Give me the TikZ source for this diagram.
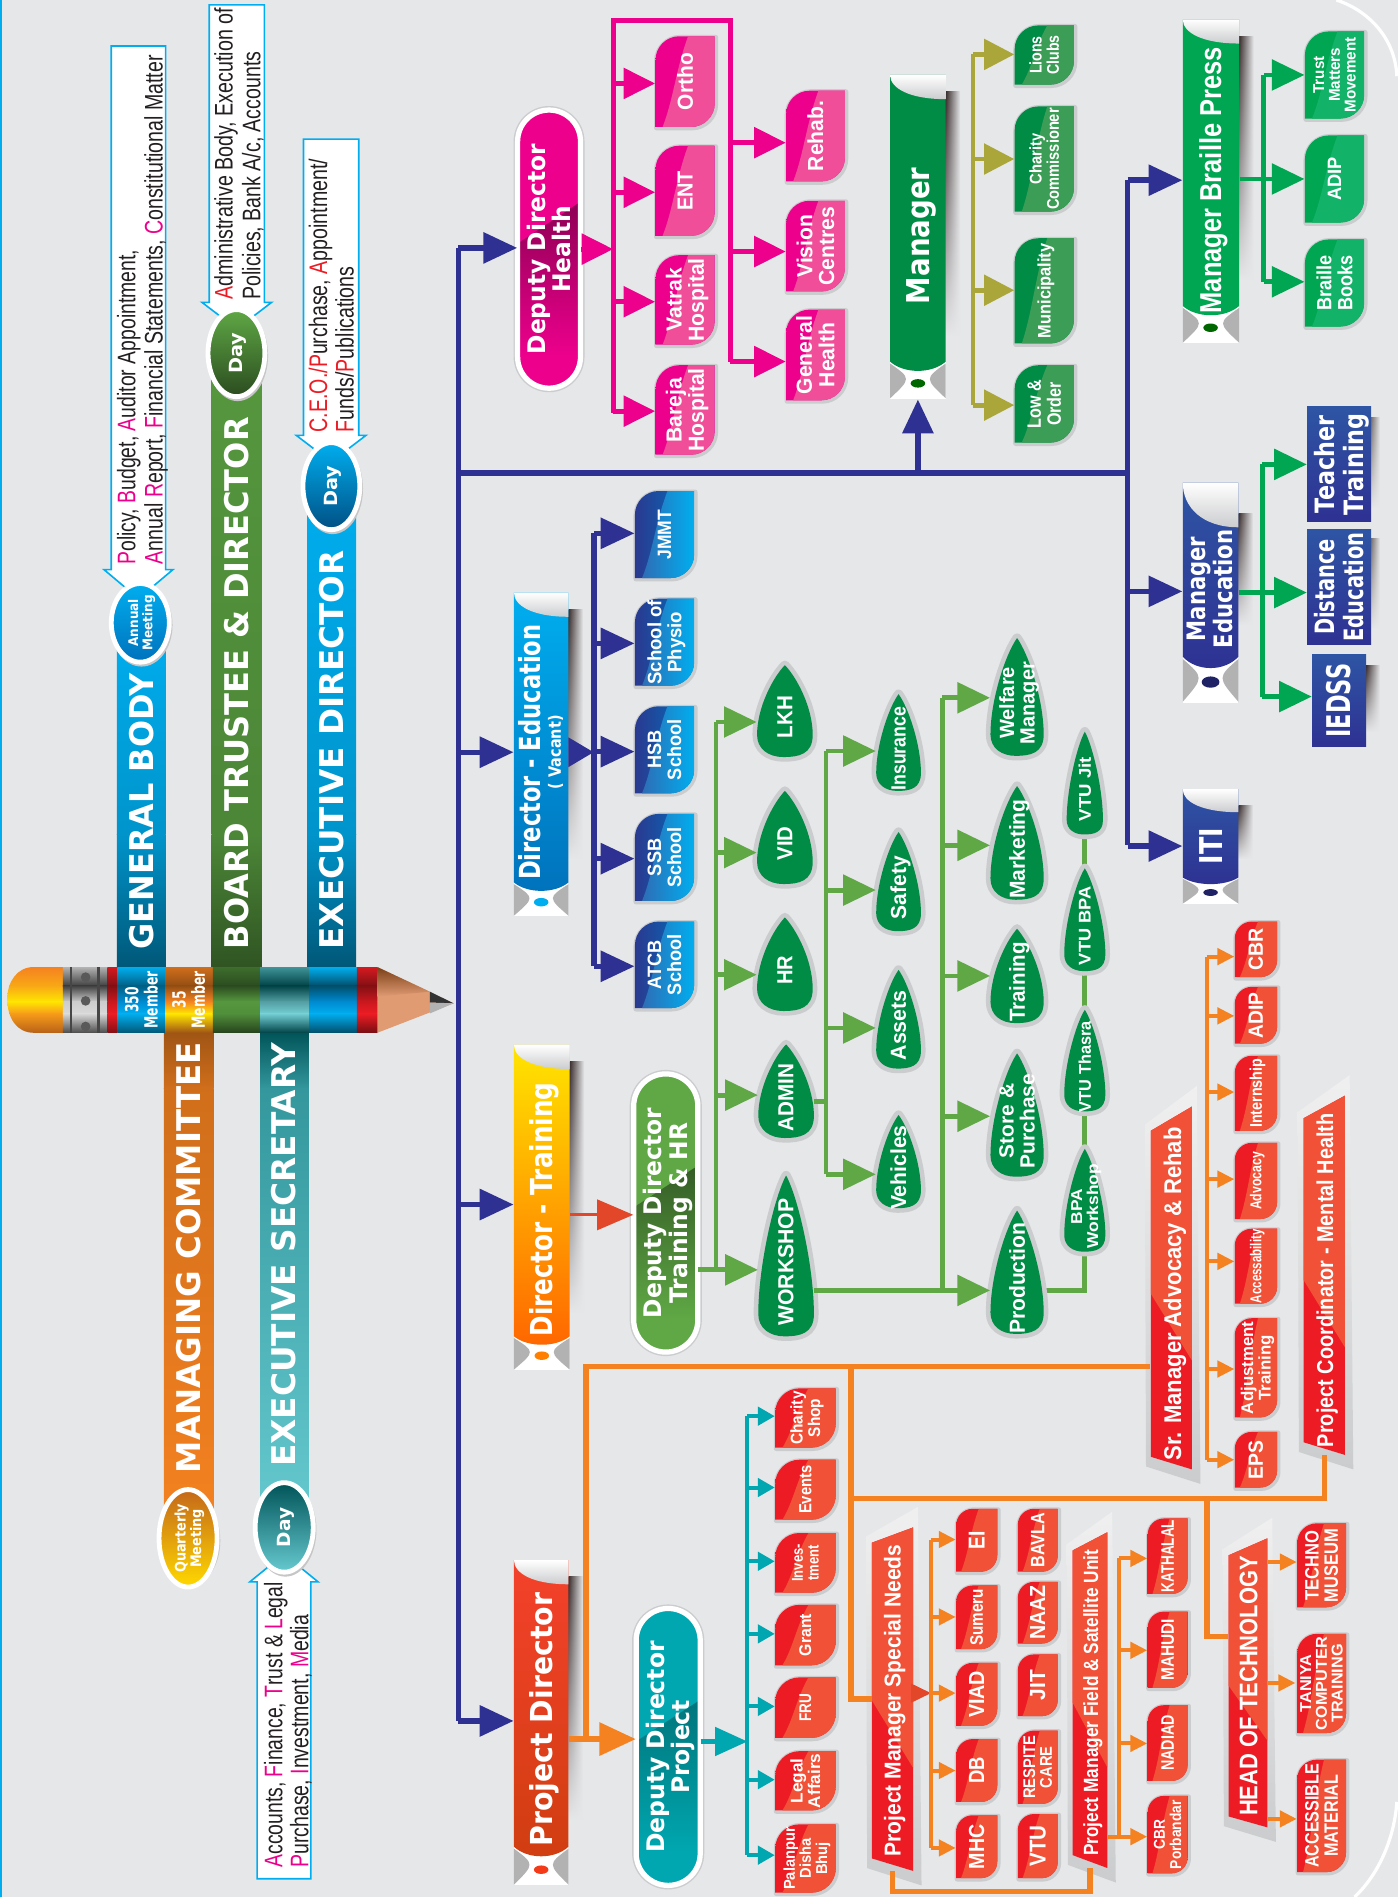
\documentclass[tikz,border=0pt]{standalone}
\usepackage{fontspec}
\usepackage{graphicx}
\usetikzlibrary{arrows.meta,shapes.geometric,calc,fadings}
\newfontfamily\arf{Liberation Sans}
\newfontfamily\dvf{DejaVu Sans}
\def\AB{\arf\bfseries}
\def\DB{\dvf\bfseries}
\def\AR{\arf}
\newlength\uu \setlength\uu{0.6pt}
\newcommand\fs[1]{\fontsize{\fpeval{0.6*#1}pt}{\fpeval{0.6*#1}pt}\selectfont}
% font, size, length along the text, text
\newcommand\T[4]{\kern\fpeval{0.28*0.6*#2}pt\rotatebox{90}{\resizebox{#3\uu}{\height}{#1\fs{#2}\begin{tabular}{@{}c@{}}#4\end{tabular}}}}
\definecolor{bgc}{HTML}{E6E7E9}
\definecolor{silverc}{HTML}{CBCCCE}
\definecolor{cyanc}{HTML}{00AEEF}
\definecolor{cblue}{HTML}{2E3192}
\definecolor{cpink}{HTML}{EC008C}
\definecolor{cpinkl}{HTML}{F04E98}
\definecolor{cred}{HTML}{ED1C24}
\definecolor{credl}{HTML}{F15136}
\definecolor{cgreen}{HTML}{008C45}
\definecolor{cgreenl}{HTML}{3C9D56}
\definecolor{cbr}{HTML}{00A651}
\definecolor{cbrl}{HTML}{12B268}
\definecolor{cline}{HTML}{5FA845}
\definecolor{colive}{HTML}{AAA63A}
\definecolor{corange}{HTML}{F58220}
\definecolor{cteal}{HTML}{00A7B0}
\definecolor{txtc}{HTML}{231F20}
\definecolor{shad}{HTML}{3A2E2E}
\definecolor{bluea}{HTML}{2A3990}
\definecolor{blueb}{HTML}{0072BC}
\definecolor{bluec}{HTML}{2E6DB5}
\definecolor{blued}{HTML}{00AEEF}
\definecolor{navyt}{HTML}{2E55A4}
\definecolor{conel}{HTML}{E09B73}
\definecolor{coned}{HTML}{7A3F17}
\definecolor{arrowr}{HTML}{E2472A}
\pgfdeclarelayer{back}
\pgfsetlayers{back,main}
\tikzset{
 tw/.style={text=white,inner sep=0pt},
 bx/.style={inner sep=0pt},
 lnblue/.style={draw=cblue,line width=2.7pt},
 arblue/.style={lnblue,-{Triangle[length=16.8pt,width=15pt]}},
 lnpink/.style={draw=cpink,line width=2.4pt},
 arpink/.style={lnpink,-{Triangle[length=15.6pt,width=15pt]}},
 lnolive/.style={draw=colive,line width=2.4pt},
 arolive/.style={lnolive,-{Triangle[length=15pt,width=15pt]}},
 lngr/.style={draw=cline,line width=2.4pt},
 argr/.style={lngr,-{Triangle[length=16.2pt,width=15pt]}},
 lnbr/.style={draw=cbr,line width=2.4pt},
 arbr/.style={lnbr,-{Triangle[length=16.2pt,width=15pt]}},
 lnor/.style={draw=corange,line width=2.7pt},
 arorbig/.style={lnor,-{Triangle[length=18pt,width=16pt]}},
 lnors/.style={draw=corange,line width=2pt},
 arors/.style={lnors,-{Triangle[length=8.4pt,width=8pt]}},
 lnte/.style={draw=cteal,line width=2pt},
 arte/.style={lnte,-{Triangle[length=8.4pt,width=9pt]}},
}
\newcommand\setleaf[4]{\def\lfA{#1}\def\lfB{#2}\def\lfC{#3}\def\lfD{#4}}
% name x0 x1 y0 y1 text
\newcommand\leaf[6]{%
 \pgfmathsetmacro\qw{#3-#2}\pgfmathsetmacro\qh{#5-#4}%
 \pgfmathsetmacro\qr{min(.4*\qw,.42*\qh)}%
 \pgfmathsetmacro\qya{#4+\qr}\pgfmathsetmacro\qyb{#5-\qr}%
 \pgfmathsetmacro\qxa{#2+\qr}\pgfmathsetmacro\qxb{#3-\qr}%
 \pgfmathsetmacro\qyc{#4+.45*\qr}\pgfmathsetmacro\qyd{#5-.45*\qr}%
 \pgfmathsetmacro\qxc{#2+.45*\qr}\pgfmathsetmacro\qxd{#3-.45*\qr}%
 \def\lp{(#2,#5) -- (#2,\qya) .. controls (#2,\qyc) and (\qxc,#4) .. (\qxa,#4) -- (#3,#4) -- (#3,\qyb) .. controls (#3,\qyd) and (\qxd,#5) .. (\qxb,#5) -- cycle}%
 \draw[line width=2.4pt,silverc,line join=round,shift={(0.8,0.8)}] \lp;
 \shade[left color=\lfA,right color=\lfB] \lp;
 \begin{scope}\clip \lp;
  \pgfmathsetmacro\qsa{#2+.55*\qw}\pgfmathsetmacro\qsb{#2+.35*\qw}\pgfmathsetmacro\qsc{#4+.35*\qh}%
  \pgfmathsetmacro\qsd{#2+.3*\qw}\pgfmathsetmacro\qse{#4+.7*\qh}\pgfmathsetmacro\qsf{#2+.12*\qw}%
  \shade[left color=\lfC,right color=\lfD] (\qsa,#4) .. controls (\qsb,\qsc) and (\qsd,\qse) .. (\qsf,#5) -- (#3,#5) -- (#3,#4) -- cycle;
 \end{scope}
 \pgfmathsetmacro\qcx{(#2+#3)/2}\pgfmathsetmacro\qcy{(#4+#5)/2}%
 \node[tw,minimum width=\qw*0.6pt,minimum height=\qh*0.6pt] (#1) at (\qcx,\qcy) {#6};
}
% name cx y0 y1 a text
\newcommand\drop[6]{%
 \pgfmathsetmacro\qh{#4-#3}\pgfmathsetmacro\qyw{#4-.8*#5}%
 \pgfmathsetmacro\qxr{#2+#5}\pgfmathsetmacro\qxl{#2-#5}%
 \pgfmathsetmacro\qta{#2+.42*#5}\pgfmathsetmacro\qtb{#2-.42*#5}\pgfmathsetmacro\qtc{#3+.13*\qh}%
 \pgfmathsetmacro\qtd{\qyw-.3*\qh}\pgfmathsetmacro\qte{#4-.1*#5}\pgfmathsetmacro\qtf{#2+.5*#5}%
 \pgfmathsetmacro\qtg{#2-.05*#5}\pgfmathsetmacro\qti{#2-.6*#5}\pgfmathsetmacro\qtj{#4-.3*#5}%
 \def\lp{(#2,#3) .. controls (\qta,\qtc) and (\qxr,\qtd) .. (\qxr,\qyw) .. controls (\qxr,\qte) and (\qtf,#4) .. (\qtg,#4) .. controls (\qti,#4) and (\qxl,\qtj) .. (\qxl,\qyw) .. controls (\qxl,\qtd) and (\qtb,\qtc) .. cycle}%
 \draw[line width=4.6pt,silverc,line join=round] \lp;
 \fill[cgreen] \lp;
 \pgfmathsetmacro\qcy{(#3+#4)/2}\pgfmathsetmacro\qty{\qcy+5}%
 \node[bx,minimum width=2*#5*0.6pt,minimum height=\qh*0.6pt] (#1) at (#2,\qcy) {};
 \node[tw] (#1-t) at (#2,\qty) {#6};
}
% name x0 x1 ytl ytr ybl ybr text-x text
\newcommand\para[9]{%
 \pgfmathsetmacro\qa{#2-5}\pgfmathsetmacro\qb{#4-5}\pgfmathsetmacro\qc{#3+4}\pgfmathsetmacro\qd{#5-17}%
 \pgfmathsetmacro\qe{#3+7}\pgfmathsetmacro\qf{#7+12}\pgfmathsetmacro\qg{#2-4}\pgfmathsetmacro\qi{#6+8}%
 \shade[top color=gray!12,bottom color=silverc] (\qa,\qb) -- (\qc,\qd) -- (\qe,\qf) -- (\qg,\qi) -- cycle;
 \def\lp{(#2,#4) -- (#3,#5) -- (#3,#7) -- (#2,#6) -- cycle}%
 \fill[cred] \lp;
 \pgfmathsetmacro\qj{#4+.5*(#6-#4)}\pgfmathsetmacro\qk{#5+.7*(#7-#5)}%
 \fill[credl] (#2,#4) -- (#3,#5) -- (#3,\qk) -- (#2,\qj) -- cycle;
 \pgfmathsetmacro\qcx{(#2+#3)/2}\pgfmathsetmacro\qcy{(#5+#7)/2}\pgfmathsetmacro\qw{#3-#2}\pgfmathsetmacro\qh{#7-#5}%
 \node[bx,minimum width=\qw*0.6pt,minimum height=\qh*0.6pt] (#1) at (\qcx,\qcy) {};
 \node[tw] (#1-t) at (#8,{(#4+#6)/2}) {#9};
}
% name x0 x1 y0 y1 base dark text
\newcommand\pill[8]{%
 \pgfmathsetmacro\qw{#3-#2}\pgfmathsetmacro\qh{#5-#4}\pgfmathsetmacro\qrr{\qw/2*0.6}%
 \draw[line width=4pt,silverc,rounded corners=\qrr pt] (#2,#4) rectangle (#3,#5);
 \begin{scope}
  \clip[rounded corners=\qrr pt] (#2,#4) rectangle (#3,#5);
  \fill[#6] (#2,#4) rectangle (#3,#5);
  \pgfmathsetmacro\qa{#4+.48*\qh}\pgfmathsetmacro\qb{#4+.33*\qh}\pgfmathsetmacro\qc{#4+.88*\qh}%
  \shade[top color=#7,bottom color=#6] (#2,\qa) -- (#3,\qb) -- (#3,\qc) -- (#2,\qc) -- cycle;
 \end{scope}
 \draw[line width=2.6pt,white,rounded corners=\qrr pt] (#2,#4) rectangle (#3,#5);
 \pgfmathsetmacro\qcx{(#2+#3)/2}\pgfmathsetmacro\qcy{(#4+#5)/2}%
 \node[tw,minimum width=\qw*0.6pt,minimum height=\qh*0.6pt] (#1) at (\qcx,\qcy) {#8};
}
% name x0 x1 y0 y1 curl bottom top-col bot-col
\newcommand\banner[9]{%
 \pgfmathsetmacro\qw{#3-#2}\pgfmathsetmacro\qcx{(#2+#3)/2}\pgfmathsetmacro\qcy{(#4+#5)/2}%
 \pgfmathsetmacro\qsa{#4+.7*#6}\pgfmathsetmacro\qsb{#5-1.7*#7}\pgfmathsetmacro\qsx{#3+12}%
 \shade[left color=shad,right color=bgc,path fading=south] (#3,\qsa) rectangle (\qsx,\qsb);
 \pgfmathsetmacro\qbt{#5-#7}%
 \fill[white] (#2,\qbt) rectangle (#3,#5);
 \pgfmathsetmacro\qba{#5-.95*#7}\pgfmathsetmacro\qbb{#5-.55*#7}\pgfmathsetmacro\qbc{#5-.02*#7}%
 \pgfmathsetmacro\qla{#2+.38*\qw}\pgfmathsetmacro\qlb{#3-.38*\qw}%
 \fill[gray!60] (#2,\qba) .. controls (\qla,\qbb) .. (#2,\qbc) -- cycle;
 \fill[gray!60] (#3,\qba) .. controls (\qlb,\qbb) .. (#3,\qbc) -- cycle;
 \pgfmathsetmacro\qdm{\qbt+.33*#7}\pgfmathsetmacro\qca{\qcx-.25*\qw}\pgfmathsetmacro\qcb{\qcx+.25*\qw}%
 \shade[top color=#8,bottom color=#9] (#2,#4) -- (#3,#4) -- (#3,\qbt) .. controls (\qcb,\qdm) and (\qca,\qdm) .. (#2,\qbt) -- cycle;
 \pgfmathsetmacro\qcu{#4+#6}\pgfmathsetmacro\qcv{\qcx-.15*\qw}\pgfmathsetmacro\qcw{#4+.55*#6}%
 \shade[top color=white,bottom color=silverc] (#2,#4) -- (#3,#4) -- (#3,\qcu) .. controls (\qcv,\qcu) and (#2,\qcw) .. (#2,#4) -- cycle;
 \node[bx,minimum width=\qw*0.6pt,minimum height=(#5-#4)*0.6pt] (#1) at (\qcx,\qcy) {};
}
% x0 x1 ytop ywing ext tip
\newcommand\callout[6]{%
 \pgfmathsetmacro\qa{#1-#5}\pgfmathsetmacro\qb{#2+#5}\pgfmathsetmacro\qc{(#1+#2)/2}%
 \draw[cyanc,fill=white,line width=.8pt] (#1,#3) -- (#2,#3) -- (#2,#4) -- (\qb,#4) -- (\qc,#6) -- (\qa,#4) -- (#1,#4) -- cycle;
}
\newcommand\ltx[5]{\node[bx,anchor=south,text=txtc] (#1) at (#2,#3) {\T{\AR}{21}{#4}{#5}};}
\newcommand\mg[1]{\textcolor{cpink}{#1}}
\newcommand\rd[1]{\textcolor{cred}{#1}}
% name cx cy rx ry top bottom text
\newcommand\ovl[8]{%
 \fill[gray!45,shift={(1,2)}] (#2,#3) circle [x radius=#4*0.6pt+1pt,y radius=#5*0.6pt+1pt];
 \node[ellipse,inner sep=0pt,draw=white,line width=2.4pt,top color=#6,bottom color=#7,text=white,
   minimum width=2*#4*0.6pt,minimum height=2*#5*0.6pt] (#1) at (#2,#3) {#8};
}
\newcommand\pband[7]{%
 \shade[top color=#3,bottom color=#4] (#1,799.6) rectangle (#2,815.3);
 \shade[top color=#4,bottom color=#5] (#1,815) rectangle (#2,828.3);
 \shade[top color=#5,bottom color=#6] (#1,828) rectangle (#2,838.3);
 \shade[top color=#6,bottom color=#7] (#1,838) rectangle (#2,854);
}
\newcommand\tap[4]{\draw[#1] (#2 |- 0,#4) -- (#3.west |- 0,#4);}
\newcommand\trunk[4]{\draw[#1] (#2 |- 0,#3) -- (#2 |- 0,#4);}
\begin{document}
\begin{tikzpicture}[x=0.6pt,y=-0.6pt]
\useasboundingbox (0,0) rectangle (1156,1568.6);
\begin{pgfonlayer}{back}
\fill[bgc] (0,0) rectangle (1156,1568.6);
\fill[cyanc] (0,0) rectangle (2,1568.6);
\draw[white,line width=1.6pt] (1105,0) .. controls (1135,10) and (1154,35) .. (1155,63);
\draw[white,line width=1.6pt] (1155,1490) .. controls (1153,1520) and (1140,1550) .. (1120,1568.6);
\end{pgfonlayer}

% callouts
\callout{92}{137}{38}{471}{6}{495}
\callout{173}{218.6}{4}{250}{6}{272}
\callout{251}{296.6}{115}{360}{6}{382}
\callout{212.6}{257}{1553.5}{1308}{6}{1285}
\ltx{c1a}{104.5}{467}{260}{\mg{P}olicy, \mg{B}udget, \mg{A}uditor Appointment,}
\ltx{c1b}{127}{467}{421}{\mg{A}nnual \mg{R}eport, \mg{F}inancial Statements, \mg{C}onstitutional Matter}
\ltx{c2a}{185}{248}{241}{\rd{A}dministrative Body, Execution of}
\ltx{c2b}{208}{248}{205}{Policies, Bank A/c, Accounts}
\ltx{c3a}{263}{357.7}{226}{\rd{C.E.O./P}urchase, \rd{A}ppointment/}
\ltx{c3b}{285}{357.7}{137}{\rd{F}unds/\rd{P}ublications}
\ltx{c4a}{226}{1544.6}{236}{\mg{A}ccounts, \mg{F}inance, \mg{T}rust \& \mg{L}egal}
\ltx{c4b}{247.5}{1544.6}{209}{\mg{P}urchase, \mg{I}nvestment, \mg{M}edia}

% bars
\shade[top color=cyanc,bottom color=cyanc!85!black] (96.7,514) rectangle (137,690.3);
\shade[top color=cyanc!85!black,bottom color=cyanc!50!black] (96.7,690) rectangle (137,800);
\shade[top color=cline!90!black,bottom color=cline!80!black] (175,292) rectangle (216.6,690.3);
\shade[top color=cline!80!black,bottom color=cline!50!black] (175,690) rectangle (216.6,800);
\shade[top color=cyanc,bottom color=cyanc!85!black] (254,402) rectangle (294.4,690.3);
\shade[top color=cyanc!85!black,bottom color=cyanc!50!black] (254,690) rectangle (294.4,800);
\shade[top color=corange!65!black,bottom color=corange!85!black] (135.6,853) rectangle (176.7,900.3);
\shade[top color=corange!85!black,bottom color=corange] (135.6,900) rectangle (176.7,1272);
\shade[top color=cteal!50!black,bottom color=cteal!60!gray] (215,853) rectangle (255.5,900.3);
\shade[top color=cteal!60!gray,bottom color=cteal!60!white] (215,900) rectangle (255.5,1263);
\node[tw] (tGB) at (117,671) {\T{\DB}{27}{228}{GENERAL BODY}};
\node[tw] (tBT) at (196,565) {\T{\DB}{27}{440}{BOARD TRUSTEE \& DIRECTOR}};
\node[tw] (tED) at (274.5,620) {\T{\DB}{27}{330}{EXECUTIVE DIRECTOR}};
\node[tw] (tMC) at (156,1040) {\T{\DB}{27}{356}{MANAGING COMMITTEE}};
\node[tw] (tES) at (235,1037.5) {\T{\DB}{27}{351}{EXECUTIVE SECRETARY}};

% ovals
\ovl{oA}{116}{515}{24}{32.5}{cyanc}{blueb}{\T{\DB}{11}{46}{Annual\\Meeting}}
\ovl{oB}{195.5}{292}{23.5}{36}{cline}{cline!45!black}{\T{\DB}{15}{34}{Day}}
\ovl{oC}{274}{402}{23.5}{36}{cyanc}{blueb!70!black}{\T{\DB}{15}{34}{Day}}
\ovl{oD}{155.5}{1272}{24}{36}{corange!80!black}{yellow!70!orange}{\T{\DB}{12}{57}{Quarterly\\Meeting}}
\ovl{oE}{235}{1263}{24}{37}{cteal!50!black}{cteal!60!white}{\T{\DB}{15}{32.6}{Day}}

% pencil
\begin{scope}
\clip (52,799.6) -- (28,799.6) .. controls (14,799.6) and (6,812) .. (6,826) .. controls (6,842) and (14,854) .. (28,854) -- (52,854) -- cycle;
\pband{6}{52.3}{corange}{corange!70!yellow}{yellow!80!orange}{corange!80!yellow}{corange!75!black}
\end{scope}
\pband{52}{89}{gray!60}{gray!50!black}{gray!40}{gray!30}{gray!60!black}
\fill[gray!55!black] (57.6,799.6) rectangle (59.4,854);
\fill[gray!55!black] (80.6,799.6) rectangle (82.4,854);
\fill[gray!70!black] (70.8,808) circle (2.4pt);
\fill[gray!70!black] (70.8,827.6) circle (2.4pt);
\fill[gray!70!black] (70.8,848.8) circle (2.4pt);
\pband{88.7}{97.3}{cred!90!black}{cred!55!black}{cred!85!black}{cred}{cred!55!black}
\pband{97}{136.8}{cyanc}{cyanc!55!black}{blueb!60!cyanc}{cyanc}{cyanc!50!black}
\pband{136.5}{176.3}{corange!85!black}{corange!60!black}{corange}{yellow!80!orange}{corange!65!black}
\pband{176}{215.3}{cline!65!black}{cline!45!black}{cline!90!black}{cline!85!black}{cline!40!black}
\pband{215}{255.9}{cteal!50!gray}{cteal!40!black}{cteal!50!gray!90!white}{cteal!55!white}{cteal!40!black}
\pband{255.6}{295.3}{cyanc}{cyanc!45!black}{blueb!60!cyanc}{cyanc}{cyanc!45!black}
\pband{295}{312.3}{cred!90!black}{cred!55!black}{cred!85!black}{cred}{cred!50!black}
\fill[conel] (312,799.6) -- (375,829.6) -- (312,854) -- cycle;
\shade[top color=coned,bottom color=conel] (312,799.6) -- (355.5,820) -- (312,824) -- cycle;
\fill[black!80] (355.5,820) -- (375,829.6) -- (355.5,829) -- cycle;
\fill[gray!60] (355.5,829) -- (375,829.6) -- (355.5,838) -- cycle;
\node[tw] (t350) at (117,826.8) {\T{\DB}{15}{47}{350\\Member}};
\node[tw] (t35) at (156,826.8) {\T{\DB}{15}{47}{35\\Member}};

% banners
\banner{pd}{425}{470}{1290}{1559}{20}{32}{credl!80!red}{cred!55!orange!85!black}
\fill[cred!70!orange] (447.5,1546) circle [x radius=3.6pt,y radius=2.1pt];
\node[tw] (pd-t) at (448,1422) {\T{\DB}{25}{210}{Project Director}};
\banner{dt}{425}{471}{864}{1133}{20}{28}{yellow!80!orange}{orange!80!red}
\fill[orange] (448,1121) circle [x radius=3.6pt,y radius=2.1pt];
\node[tw] (dt-t) at (448,1000) {\T{\DB}{25}{210}{Director - Training}};
\banner{de}{425}{470}{490}{757.7}{20}{28}{cyanc}{blueb}
\fill[cyanc] (447.5,746) circle [x radius=3.6pt,y radius=2.1pt];
\node[tw] (de-t) at (438,622) {\T{\DB}{24}{211}{Director - Education}};
\node[tw] (de-v) at (458.6,622) {\T{\DB}{14}{61}{( Vacant)}};
\banner{mg}{736}{782}{62}{330}{20}{31}{cgreen}{cgreen}
\fill[green!40!black] (759,317) circle [x radius=3.6pt,y radius=2.1pt];
\node[tw] (mg-t) at (759,195) {\T{\DB}{26}{113}{Manager}};
\banner{mb}{978}{1024.6}{16}{284}{20}{31}{cbr}{cbr}
\fill[green!40!black] (1001,271) circle [x radius=3.6pt,y radius=2.1pt];
\node[tw] (mb-t) at (1001,149) {\T{\AB}{25}{220}{Manager Braille Press}};
\banner{me}{978}{1024}{399}{581}{37}{38}{navyt}{cblue}
\fill[cblue!70!black] (1001,564) circle [x radius=4.4pt,y radius=2.8pt];
\node[tw] (me-t) at (1000.6,487) {\T{\DB}{21}{98}{Manager\\Education}};
\banner{iti}{978}{1024}{652.6}{747.6}{19}{22}{navyt}{cblue}
\fill[cblue!70!black] (1001,738) circle [x radius=3.6pt,y radius=1.7pt];
\node[tw] (iti-t) at (1001.4,699.6) {\T{\DB}{26}{30}{ITI}};

% shaded rectangles
\shade[left color=shad,right color=bgc,path fading=south] (1129.6,345) rectangle (1141,420);
\shade[left color=shad,right color=bgc,path fading=south] (1129.6,445) rectangle (1141,520);
\shade[left color=shad,right color=bgc,path fading=south] (1129.6,550) rectangle (1141,605);
\node[bx,top color=navyt,bottom color=cblue,minimum width=44.6*0.6pt,minimum height=95*0.6pt,text=white] (tt) at (1107.3,384) {\T{\DB}{22}{84}{Teacher\\Training}};
\node[bx,top color=navyt,bottom color=cblue,minimum width=44.6*0.6pt,minimum height=95*0.6pt,text=white] (dist) at (1107.3,485.5) {\T{\DB}{22}{90}{Distance\\Education}};
\node[bx,top color=navyt,bottom color=cblue,minimum width=44.6*0.6pt,minimum height=76.6*0.6pt,text=white] (ieds) at (1107.3,579.3) {\T{\DB}{27}{61}{IEDSS}};

% pills
\pill{hd}{428}{480}{91}{321}{cpink}{cpink!60!black}{\T{\DB}{20}{174}{Deputy Director\\Health}}
\pill{ddp}{526}{579}{1330}{1559}{cteal}{cteal!70!black}{\T{\DB}{20}{175}{Deputy Director\\Project}}
\pill{ddt}{524}{577}{888}{1118}{cline}{cline!55!black}{\T{\DB}{20}{174}{Deputy Director\\Training \& HR}}

% pink leaves
\setleaf{cpink}{cpink}{cpinkl}{cpinkl}
\leaf{lo}{542}{591}{30}{105}{\T{\AB}{18}{47}{Ortho}}
\leaf{le}{542}{591}{120.5}{195}{\T{\AB}{18}{33}{ENT}}
\leaf{lv}{542}{591}{211}{285}{\T{\AB}{18}{69}{Vatrak\\Hospital}}
\leaf{lb}{542}{591}{302}{376}{\T{\AB}{18}{69}{Bareja\\Hospital}}
\leaf{lr}{650}{698.6}{75}{150}{\T{\AB}{18}{58}{Rehab.}}
\leaf{lc}{650}{698.6}{166}{241}{\T{\AB}{18}{65}{Vision\\Centres}}
\leaf{lg}{650}{698.6}{256}{331}{\T{\AB}{18}{65}{General\\Health}}

% blue leaves
\setleaf{bluea}{blueb}{bluec}{blued}
\leaf{bj}{525}{574}{406}{478}{\T{\AB}{16}{41}{JMMT}}
\leaf{bs}{525}{574}{495}{567}{\T{\AB}{16}{70}{School of\\Physio}}
\leaf{bh}{525}{574}{584}{656}{\T{\AB}{16}{50}{HSB\\School}}
\leaf{bb}{525}{574}{673}{745}{\T{\AB}{16}{50}{SSB\\School}}
\leaf{ba}{525}{574}{762}{833.6}{\T{\AB}{16}{50}{ATCB\\School}}

% drops
\drop{lkh}{649}{550}{626}{23}{\T{\AB}{18}{35}{LKH}}
\drop{vid}{649}{654}{731}{23}{\T{\AB}{18}{28}{VID}}
\drop{hrd}{649}{758.6}{836}{23}{\T{\AB}{18}{24}{HR}}
\drop{adm}{650}{863.6}{941}{23}{\T{\AB}{18}{56}{ADMIN}}
\drop{wk}{650}{972}{1105}{23}{\T{\AB}{18}{105}{WORKSHOP}}
\drop{ins}{743}{574}{654}{18.5}{\T{\AB}{17}{69}{Insurance}}
\drop{saf}{743}{688}{770}{18.5}{\T{\AB}{18}{52}{Safety}}
\drop{ast}{743}{802}{883.6}{18.5}{\T{\AB}{18}{58}{Assets}}
\drop{veh}{743}{922}{999}{18.5}{\T{\AB}{18}{70}{Vehicles}}
\drop{wel}{841}{527.6}{625}{22}{\T{\AB}{17}{68}{Welfare\\Manager}}
\drop{mkt}{841}{650}{744}{22}{\T{\AB}{18}{82}{Marketing}}
\drop{trn}{841}{768}{846}{22}{\T{\AB}{18}{66}{Training}}
\drop{sto}{841}{871}{973}{22}{\T{\AB}{17}{78}{Store \&\\Purchase}}
\drop{prod}{841}{1001}{1103}{22}{\T{\AB}{18}{92}{Production}}
\drop{vjit}{897}{605}{690}{15}{\T{\AB}{14}{53}{VTU Jit}}
\drop{vbpa}{897}{718}{803}{17}{\T{\AB}{14}{65}{VTU BPA}}
\drop{vtha}{897}{835}{919}{17}{\T{\AB}{14}{75}{VTU Thasra}}
\drop{bpaw}{897}{950}{1035}{17}{\T{\AB}{13}{70}{BPA\\Workshop}}

% red leaves
\setleaf{cred}{cred}{credl}{credl}
\leaf{rc}{641}{691}{1148}{1197}{\T{\AB}{14}{44}{Charity\\Shop}}
\leaf{rev}{641}{691}{1207}{1256.6}{\T{\AB}{14.5}{40}{Events}}
\leaf{rin}{641}{691}{1267.6}{1317}{\T{\AB}{13}{31}{Inves-\\tment}}
\leaf{rg}{641}{691}{1327}{1377}{\T{\AB}{14}{35}{Grant}}
\leaf{rf}{641}{691}{1387}{1437}{\T{\AB}{14}{23}{FRU}}
\leaf{rl}{641}{691}{1448}{1497}{\T{\AB}{14}{45}{Legal\\Affairs}}
\leaf{rp}{641}{691}{1508.5}{1565}{\T{\AB}{13}{52}{Palanpur\\Disha\\Bhuj}}
\leaf{sei}{790.6}{824.6}{1247.6}{1299.6}{\T{\AB}{19}{15}{EI}}
\leaf{ssu}{790.6}{824.6}{1311}{1363.6}{\T{\AB}{15}{47}{Sumeru}}
\leaf{svi}{790.6}{824.6}{1375}{1427}{\T{\AB}{18}{39}{VIAD}}
\leaf{sdb}{790.6}{824.6}{1438}{1490}{\T{\AB}{18}{22}{DB}}
\leaf{smh}{790.6}{824.6}{1501}{1553}{\T{\AB}{18}{37}{MHC}}
\leaf{tba}{841.6}{874.6}{1247.6}{1299.6}{\T{\AB}{16}{45}{BAVLA}}
\leaf{tna}{841.6}{874.6}{1308}{1359}{\T{\AB}{18}{45}{NAAZ}}
\leaf{tji}{841.6}{874.6}{1368}{1419}{\T{\AB}{18}{25}{JIT}}
\leaf{tre}{841.6}{874.6}{1431}{1491.6}{\T{\AB}{14}{52}{RESPITE\\CARE}}
\leaf{tvt}{841.6}{874.6}{1500}{1553}{\T{\AB}{19}{34}{VTU}}
\leaf{fka}{949}{982}{1255.6}{1318}{\T{\AB}{15}{60}{KATHALAL}}
\leaf{fma}{949}{982}{1332.6}{1395.6}{\T{\AB}{15}{51}{MAHUDI}}
\leaf{fna}{949}{982}{1410}{1472.6}{\T{\AB}{15}{46}{NADIAD}}
\leaf{fcb}{949}{982}{1485}{1549}{\T{\AB}{13}{57}{CBR\\Porbandar}}
\leaf{hte}{1072.6}{1113}{1259.6}{1329}{\T{\AB}{16}{61}{TECHNO\\MUSEUM}}
\leaf{hta}{1072.6}{1113}{1351}{1433}{\T{\AB}{13}{77}{TANIYA\\COMPUTER\\TRAINING}}
\leaf{hac}{1072.6}{1113}{1455}{1548}{\T{\AB}{16}{86}{ACCESSIBLE\\MATERIAL}}
\leaf{acb}{1021}{1056}{762}{808}{\T{\AB}{17}{35}{CBR}}
\leaf{aad}{1021}{1056}{816}{863}{\T{\AB}{17}{38}{ADIP}}
\leaf{ain}{1021}{1056}{873}{935}{\T{\AB}{14}{57}{Internship}}
\leaf{aav}{1021}{1056}{945}{1008}{\T{\AB}{13}{48}{Advocacy}}
\leaf{aac}{1021}{1056}{1016}{1078}{\T{\AB}{13}{61}{Accessability}}
\leaf{aaj}{1021}{1056}{1090}{1172}{\T{\AB}{14}{76.6}{Adjustment\\Training}}
\leaf{aep}{1021}{1056}{1184}{1230}{\T{\AB}{17}{32}{EPS}}

% green leaves
\setleaf{cgreen}{cgreen}{cgreenl}{cgreenl}
\leaf{gli}{839}{888}{21}{70}{\T{\AB}{14}{32.5}{Lions\\Clubs}}
\leaf{gch}{839}{888}{88}{175}{\T{\AB}{14}{84}{Charity\\Commissioner}}
\leaf{gmu}{839}{888}{197}{284}{\T{\AB}{15}{78}{Municipality}}
\leaf{glo}{839}{888}{302}{366}{\T{\AB}{16}{40}{Low \&\\Order}}
\setleaf{cbr}{cbr}{cbrl}{cbrl}
\leaf{btr}{1079}{1128}{26}{98}{\T{\AB}{13}{62}{Trust\\Matters\\Movement}}
\leaf{bad}{1079}{1128}{112}{184}{\T{\AB}{16}{36}{ADIP}}
\leaf{bbr}{1079}{1128}{198}{270}{\T{\AB}{17}{45.6}{Braille\\Books}}

% parallelograms
\para{pms}{721}{755}{1275.6}{1263}{1536.7}{1547}{738}{\T{\AB}{19}{258}{Project Manager Special Needs}}
\para{fld}{887}{915.6}{1282}{1267}{1534}{1544.6}{902}{\T{\AB}{17}{253}{Project Manager Field \& Satellite Unit}}
\para{hot}{1016}{1048}{1286}{1272}{1502}{1511}{1032.6}{\T{\AB}{21}{215}{HEAD OF TECHNOLOGY}}
\para{sr}{951.6}{985.6}{935}{915}{1204.6}{1215}{969.6}{\T{\AB}{20}{275}{Sr. Manager Advocacy \& Rehab}}
\para{pc}{1078}{1112}{924.6}{906}{1192.6}{1203}{1095.6}{\T{\AB}{19}{276}{Project Coordinator - Mental Health}}

% bus coordinates
\coordinate (busM) at (379,205);
\coordinate (busR) at (932.5,391);
\coordinate (pinkL) at (507,17);
\coordinate (pinkR) at (604,17);
\coordinate (eduBus) at (491,622);
\coordinate (g1) at (592,597);
\coordinate (g2) at (683,621);
\coordinate (g3) at (779,577);
\coordinate (oli) at (804.6,45);
\coordinate (brBus) at (1045,62);
\coordinate (meBus) at (1043.6,384);
\coordinate (teBus) at (618,1171);
\coordinate (orA) at (484.5,1130);
\coordinate (orB) at (703.5,1130);
\coordinate (orC) at (703.5,1239);
\coordinate (orD) at (998,1239);
\coordinate (spBus) at (770,1273);
\coordinate (fdBus) at (925,1288.6);
\coordinate (srBus) at (998,791);

% blue network
\trunk{lnblue}{busM}{205}{1423}
\draw[lnblue] (busM |- 0,391) -- (busR |- 0,391);
\trunk{lnblue}{busR}{149}{699}
\tap{arblue}{busM}{hd}{205}
\tap{arblue}{busM}{de}{622}
\tap{arblue}{busM}{dt}{996}
\tap{arblue}{busM}{pd}{1423}
\tap{arblue}{busR}{mb}{149}
\tap{arblue}{busR}{me}{489}
\tap{arblue}{busR}{iti}{699.6}
\draw[arblue] (mg.south |- 0,391) -- (mg.south);
\draw[arblue,-{Triangle[length=12.6pt,width=14pt]}] (de.east |- 0,622) -- (eduBus);
\trunk{lnblue}{eduBus}{441}{799}
\tap{arblue}{eduBus}{bj}{441}
\tap{arblue}{eduBus}{bs}{532}
\tap{arblue}{eduBus}{bh}{621.5}
\tap{arblue}{eduBus}{bb}{710}
\tap{arblue}{eduBus}{ba}{799}

% pink network
\draw[arpink] (hd.east) -- (pinkL |- hd.east);
\draw[lnpink] (pinkL |- 0,341.5) -- (pinkL) -- (pinkR) -- (pinkR |- 0,299);
\tap{arpink}{pinkL}{lo}{69}
\tap{arpink}{pinkL}{le}{159}
\tap{arpink}{pinkL}{lv}{249.5}
\tap{arpink}{pinkL}{lb}{340}
\tap{arpink}{pinkR}{lr}{118}
\tap{arpink}{pinkR}{lc}{208}
\tap{arpink}{pinkR}{lg}{299}

% olive
\trunk{lnolive}{oli}{45}{335}
\tap{arolive}{oli}{gli}{45}
\tap{arolive}{oli}{gch}{131.5}
\tap{arolive}{oli}{gmu}{240}
\tap{arolive}{oli}{glo}{335}

% braille and education
\trunk{lnbr}{brBus}{62}{233}
\draw[lnbr] (mb.east |- 0,148) -- (brBus |- 0,148);
\tap{arbr}{brBus}{btr}{62}
\tap{arbr}{brBus}{bad}{148}
\tap{arbr}{brBus}{bbr}{233}
\trunk{lnbr}{meBus}{384}{576}
\draw[lnbr] (me.east |- 0,490) -- (meBus |- 0,490);
\tap{arbr}{meBus}{tt}{384}
\tap{arbr}{meBus}{dist}{490}
\tap{arbr}{meBus}{ieds}{576}

% training green
\draw[draw=arrowr,line width=1.6pt,-{Triangle[length=18pt,width=15pt]}] (dt.east |- 0,1004.5) -- (ddt.west |- 0,1004.5);
\draw[lngr] (ddt.east |- 0,1050) -- (g1 |- 0,1050);
\trunk{lngr}{g1}{597}{1050}
\tap{argr}{g1}{lkh}{597}
\tap{argr}{g1}{vid}{705}
\tap{argr}{g1}{hrd}{806}
\tap{argr}{g1}{adm}{905.5}
\tap{argr}{g1}{wk}{1050}
\draw[lngr] (adm.east |- 0,911) -- (g2 |- 0,911);
\trunk{lngr}{g2}{621}{971}
\tap{argr}{g2}{ins}{621}
\tap{argr}{g2}{saf}{736}
\tap{argr}{g2}{ast}{850}
\tap{argr}{g2}{veh}{971}
\draw[argr] (wk.east |- 0,1067) -- (prod.west |- 0,1067);
\trunk{lngr}{g3}{577}{1067}
\tap{argr}{g3}{wel}{577}
\tap{argr}{g3}{mkt}{699}
\tap{argr}{g3}{trn}{807}
\tap{argr}{g3}{sto}{923}
\begin{pgfonlayer}{back}
\draw[lngr] (prod.east |- 0,1067) -- (vjit.south |- 0,1067) -- (vjit.south);
\end{pgfonlayer}

% orange
\draw[arorbig] (pd.east |- 0,1438) -- (ddp.west |- 0,1438);
\draw[lnor] (orA |- 0,1438) -- (orA) -- (sr.west |- orA);
\draw[lnor] (orB) -- (orB |- pms.west) -- (pms.west);
\draw[lnor] (orC) -- (pc.south |- orC) -- (pc.south);
\draw[lnor] (orD) -- (orD |- 0,1353) -- (hot.west |- 0,1353);
\draw[lnor] (pms.south) -- (pms.south |- 0,1564) -- (fld.south |- 0,1564) -- (fld.south);
% teal
\draw[lnte,-{Triangle[length=16pt,width=14pt]}] (ddp.east |- 0,1440) -- (teBus |- 0,1440);
\trunk{lnte}{teBus}{1171}{1534}
\tap{arte}{teBus}{rc}{1171}
\tap{arte}{teBus}{rev}{1230}
\tap{arte}{teBus}{rin}{1291}
\tap{arte}{teBus}{rg}{1351}
\tap{arte}{teBus}{rf}{1411}
\tap{arte}{teBus}{rl}{1471.6}
\tap{arte}{teBus}{rp}{1534}
% special needs
\draw[draw=arrowr,line width=2pt,-{Triangle[length=10pt,width=9pt]}] (pms.east |- 0,1400) -- (spBus |- 0,1400);
\trunk{lnors}{spBus}{1273}{1528}
\tap{arors}{spBus}{sei}{1273}
\tap{arors}{spBus}{ssu}{1337}
\tap{arors}{spBus}{svi}{1400}
\tap{arors}{spBus}{sdb}{1464}
\tap{arors}{spBus}{smh}{1528}
% field
\draw[lnors] (fld.east |- 0,1518.7) -- (fdBus |- 0,1518.7);
\trunk{lnors}{fdBus}{1288.6}{1518.7}
\tap{arors}{fdBus}{fka}{1288.6}
\tap{arors}{fdBus}{fma}{1364.6}
\tap{arors}{fdBus}{fna}{1441.6}
\tap{arors}{fdBus}{fcb}{1518.7}
% head of technology
\draw[arors] (hot.east |- 0,1291.6) -- (hte.west |- 0,1291.6);
\draw[arors] (hot.east |- 0,1391.6) -- (hta.west |- 0,1391.6);
\draw[arors] (hot.east |- 0,1504) -- (hac.west |- 0,1504);
% advocacy
\trunk{lnors}{srBus}{791}{1207}
\tap{arors}{srBus}{acb}{791}
\tap{arors}{srBus}{aad}{840}
\tap{arors}{srBus}{ain}{903}
\tap{arors}{srBus}{aav}{975}
\tap{arors}{srBus}{aac}{1043}
\tap{arors}{srBus}{aaj}{1132}
\tap{arors}{srBus}{aep}{1207}
\end{tikzpicture}
\end{document}
